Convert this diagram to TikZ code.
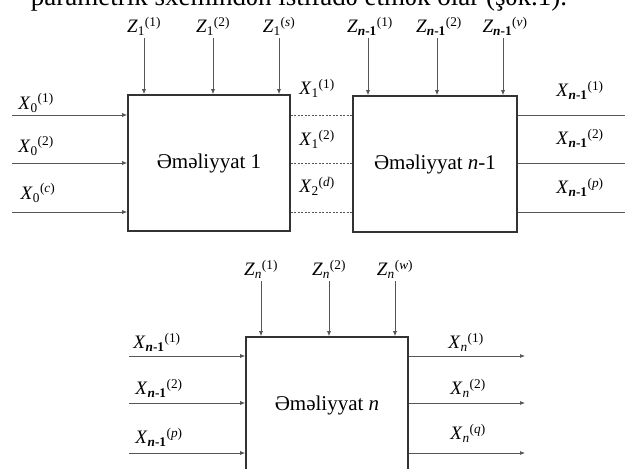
\documentclass[tikz,border=0pt]{standalone}
\usepackage{fontspec}
\setmainfont{Liberation Serif}
\usepackage{tikz}
\usetikzlibrary{arrows.meta, positioning, calc}
\definecolor{boxline}{HTML}{333333}
\definecolor{wiregray}{HTML}{555555}
\newcommand{\sig}[3]{\textit{#1}\textsubscript{#2}\textsuperscript{(#3)}}
\newcommand{\nmo}{\textbf{\textit{n}-1}}
\tikzset{
    opbox/.style={
        rectangle, draw=boxline, line width=1.6pt, fill=white,
        minimum width=162pt, minimum height=136pt,
        font=\fontsize{21}{24}\selectfont, align=center
    },
    siglabel/.style={
        font=\fontsize{19}{22}\selectfont, inner sep=1pt
    },
    sigarrow/.style={
        -{Latex[length=5pt, width=4pt]}, line width=0.7pt, color=wiregray
    },
    linkline/.style={
        line width=0.7pt, dashed, dash pattern=on 2pt off 1.5pt, color=wiregray
    },
    wireline/.style={
        line width=0.7pt, color=wiregray
    },
}
\begin{document}
\begin{tikzpicture}[x=1pt, y=-1pt]
    \useasboundingbox (0,0) rectangle (625,469);

    \node[font=\fontsize{27}{30}\selectfont, anchor=base] (head) at (299,5) {parametrik sxemindən istifadə etmək olar (şək.1).};

    % operation boxes
    \node[opbox] (op1) at (209,163) {Əməliyyat 1};
    \node[opbox, minimum width=164pt] (opm) at (435,164) {Əməliyyat \textit{n}-1};
    \node[opbox] (opn) at (327,405) {Əməliyyat \textit{n}};

    % disturbances Z
    \node[siglabel] (z11) at (144,26) {\sig{Z}{1}{1}};
    \node[siglabel] (z12) at (213,26) {\sig{Z}{1}{2}};
    \node[siglabel] (z1s) at (279,26) {\sig{Z}{1}{\textit{s}}};
    \node[siglabel] (zm1) at (370,26) {\sig{Z}{\nmo}{1}};
    \node[siglabel] (zm2) at (439,26) {\sig{Z}{\nmo}{2}};
    \node[siglabel] (zmv) at (505,26) {\sig{Z}{\nmo}{\textit{v}}};
    \node[siglabel] (zn1) at (261,269) {\sig{Z}{\textit{n}}{1}};
    \node[siglabel] (zn2) at (329,269) {\sig{Z}{\textit{n}}{2}};
    \node[siglabel] (znw) at (395,269) {\sig{Z}{\textit{n}}{\textit{w}}};
    \foreach \z/\x/\b in {z11/144/op1, z12/213/op1, z1s/279/op1, zm1/368/opm, zm2/437/opm, zmv/503/opm, zn1/261/opn, zn2/329/opn, znw/395/opn}
        \draw[sigarrow] (\x,40 |- \z.south) ++(0,2) -- (\x,0 |- \b.north);

    % inputs of operation 1
    \coordinate (in1a) at (12,115);
    \coordinate (in1b) at (12,163);
    \coordinate (in1c) at (12,212);
    \node[siglabel] (x01) at (36,103) {\sig{X}{0}{1}};
    \node[siglabel] (x02) at (36,146) {\sig{X}{0}{2}};
    \node[siglabel] (x0c) at (38,193) {\sig{X}{0}{\textit{c}}};
    \foreach \p in {in1a, in1b, in1c}
        \draw[sigarrow] (\p) -- (\p -| op1.west);

    % link between operation 1 and n-1
    \node[siglabel] (x11) at (317,88) {\sig{X}{1}{1}};
    \node[siglabel] (x12) at (317,139) {\sig{X}{1}{2}};
    \node[siglabel] (x2d) at (317,186) {\sig{X}{2}{\textit{d}}};
    \foreach \p in {in1a, in1b, in1c}
        \draw[linkline] (\p -| op1.east) -- (\p -| opm.west);

    % outputs of operation n-1
    \coordinate (outma) at (625,115);
    \coordinate (outmb) at (625,163);
    \coordinate (outmc) at (625,212);
    \node[siglabel] (xm1) at (580,90) {\sig{X}{\nmo}{1}};
    \node[siglabel] (xm2) at (580,138) {\sig{X}{\nmo}{2}};
    \node[siglabel] (xmp) at (580,187) {\sig{X}{\nmo}{\textit{p}}};
    \foreach \p in {outma, outmb, outmc}
        \draw[wireline] (\p -| opm.east) -- (\p);

    % inputs of operation n
    \coordinate (inna) at (129,356);
    \coordinate (innb) at (129,403);
    \coordinate (innc) at (129,453);
    \node[siglabel] (xn11) at (157,342) {\sig{X}{\nmo}{1}};
    \node[siglabel] (xn12) at (159,388) {\sig{X}{\nmo}{2}};
    \node[siglabel] (xn1p) at (159,437) {\sig{X}{\nmo}{\textit{p}}};
    \foreach \p in {inna, innb, innc}
        \draw[sigarrow] (\p) -- (\p -| opn.west);

    % outputs of operation n
    \coordinate (outna) at (525,356);
    \coordinate (outnb) at (525,403);
    \coordinate (outnc) at (525,453);
    \node[siglabel] (xn1) at (466,342) {\sig{X}{\textit{n}}{1}};
    \node[siglabel] (xn2) at (468,388) {\sig{X}{\textit{n}}{2}};
    \node[siglabel] (xnq) at (468,433) {\sig{X}{\textit{n}}{\textit{q}}};
    \foreach \p in {outna, outnb, outnc}
        \draw[sigarrow] (\p -| opn.east) -- (\p);
\end{tikzpicture}
\end{document}
